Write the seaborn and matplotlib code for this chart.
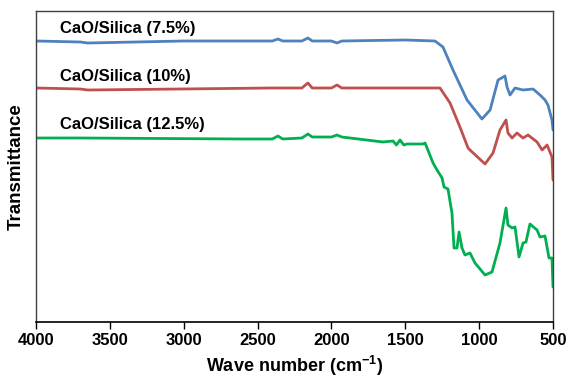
import matplotlib
matplotlib.use("Agg")
import matplotlib.pyplot as plt
import seaborn as sns
import pandas as pd

# Wavenumbers (cm-1) and transmittance (arbitrary units)
wn_75 = [4000, 3700, 3650, 3000, 2600, 2400, 2362, 2330, 2200, 2159, 2130, 2000, 1962, 1930,
         1500, 1299, 1245, 1177, 1082, 981, 926, 872, 825, 811, 791, 757, 703, 635, 588,
         554, 534, 507, 500]
t_75 = [281, 280, 279, 281, 281, 281, 283, 281, 281, 284, 281, 281, 279, 281,
        282, 281, 275, 252, 222, 203, 212, 242, 246, 235, 227, 234, 232, 233, 227,
        222, 217, 202, 192]

wn_10 = [4000, 3700, 3650, 2400, 2200, 2159, 2130, 2000, 1962, 1930, 1300, 1265, 1197, 1130,
         1075, 1062, 960, 906, 859, 818, 805, 777, 744, 703, 669, 608, 574, 540, 507, 500]
t_10 = [234, 233, 232, 234, 234, 239, 234, 234, 237, 234, 234, 234, 219, 195,
        174, 172, 158, 169, 192, 202, 189, 184, 189, 184, 187, 180, 172, 177, 165, 142]

wn_125 = [4000, 3700, 2600, 2400, 2362, 2330, 2200, 2159, 2130, 2000, 1962, 1930, 1651, 1583,
          1560, 1536, 1510, 1488, 1380, 1366, 1312, 1285, 1251, 1238, 1211, 1184, 1170, 1150,
          1136, 1116, 1096, 1062, 1028, 960, 913, 859, 818, 805, 777, 757, 730, 703, 683,
          656, 608, 588, 554, 527, 507, 500]
t_125 = [184, 184, 183, 183, 186, 183, 184, 188, 185, 185, 187, 185, 180, 181,
         177, 182, 177, 178, 178, 179, 159, 152, 144, 135, 133, 109, 74, 74,
         90, 74, 67, 69, 59, 47, 50, 79, 114, 97, 94, 95, 65, 79, 80,
         98, 92, 85, 86, 64, 64, 35]

labels = ["CaO/Silica (7.5%)", "CaO/Silica (10%)", "CaO/Silica (12.5%)"]
colors = ["#4F81BD", "#C0504D", "#00B050"]

frames = []
for lab, w, t in zip(labels, [wn_75, wn_10, wn_125], [t_75, t_10, t_125]):
    frames.append(pd.DataFrame({"wn": w, "T": t, "sample": lab}))
df = pd.concat(frames, ignore_index=True)

sns.set_style("white")
plt.rcParams["font.family"] = ["Liberation Sans", "DejaVu Sans"]
plt.rcParams["mathtext.fontset"] = "custom"
plt.rcParams["mathtext.default"] = "bf"
plt.rcParams["mathtext.bf"] = "Liberation Sans:bold"
plt.rcParams["mathtext.rm"] = "Liberation Sans:bold"
plt.rcParams["text.color"] = "black"
plt.rcParams["axes.labelcolor"] = "black"
plt.rcParams["xtick.color"] = "black"
plt.rcParams["xtick.labelcolor"] = "black"

fig = plt.figure(figsize=(5.67, 3.79), dpi=100)
ax = fig.add_axes([36 / 567, 1 - 322 / 379, (553 - 36) / 567, (322 - 11) / 379])

sns.lineplot(data=df, x="wn", y="T", hue="sample", palette=colors, hue_order=labels,
             linewidth=2.0, sort=False, estimator=None, legend=False, ax=ax)

ax.set_xlim(4000, 500)
ax.set_ylim(0, 311)
ax.set_xticks([4000, 3500, 3000, 2500, 2000, 1500, 1000, 500])
ax.set_yticks([])
ax.tick_params(axis="x", direction="out", length=5, width=1, color="black",
               labelcolor="black", labelsize=12, pad=3, bottom=True)
for lbl in ax.get_xticklabels():
    lbl.set_fontweight("bold")

ax.set_xlabel("Wave number (cm$^{-1}$)", fontsize=13, fontweight="bold", labelpad=4,
              color="black")
ax.set_ylabel("Transmittance", fontsize=13.5, fontweight="bold", labelpad=8, color="black")

for side in ["left", "top", "right"]:
    ax.spines[side].set_color("#404040")
    ax.spines[side].set_linewidth(1.0)
    ax.spines[side].set_visible(True)
ax.spines["bottom"].set_color("black")
ax.spines["bottom"].set_linewidth(1.2)

label_y = [294, 246, 198]
for lab, y in zip(labels, label_y):
    ax.text(3835, y, lab, fontsize=12, fontweight="bold", color="black",
            ha="left", va="center")

fig.savefig("out.png", dpi=100)
